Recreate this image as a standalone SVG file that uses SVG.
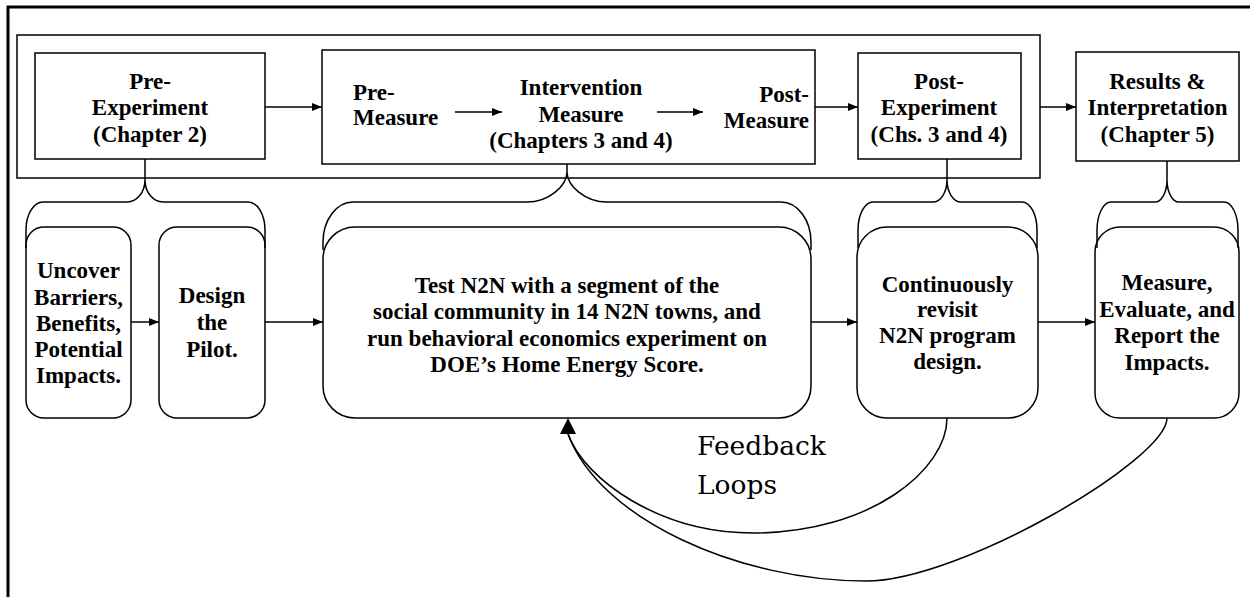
<svg xmlns="http://www.w3.org/2000/svg" width="1250" height="597" viewBox="0 0 1250 597">
<style>
.b{fill:#fff;stroke:#000;stroke-width:1.5}
.t{font-family:"Liberation Serif","Times New Roman",serif;font-weight:bold;font-size:23px;fill:#000;text-anchor:middle}
.c{fill:none;stroke:#000;stroke-width:1.5}
.f{font-family:"DejaVu Serif",serif;font-size:26.5px;fill:#000}
</style>
<defs>
<marker id="ah" markerUnits="userSpaceOnUse" markerWidth="10" markerHeight="8" refX="10" refY="4" orient="auto">
<path d="M0,0 L10,4 L0,8 z" fill="#000"/>
</marker>
</defs>
<rect width="1250" height="597" fill="#fff"/>
<g id="border">
<path d="M8,597 V7 H1250" fill="none" stroke="#000" stroke-width="3"/>
</g>
<g id="container"><rect class="b" x="17" y="35" width="1023" height="143"/></g>
<g id="pre-experiment">
<rect class="b" x="35" y="53" width="230" height="106"/>
<text class="t" x="150" y="89">Pre-</text>
<text class="t" x="150" y="115">Experiment</text>
<text class="t" x="150" y="142">(Chapter 2)</text>
</g>
<g id="experiment">
<rect class="b" x="322" y="50" width="493" height="114"/>
<text class="t" x="353" y="100" text-anchor="start" style="text-anchor:start">Pre-</text>
<text class="t" x="353" y="125" style="text-anchor:start">Measure</text>
<text class="t" x="581" y="95">Intervention</text>
<text class="t" x="581" y="122">Measure</text>
<text class="t" x="581" y="148">(Chapters 3 and 4)</text>
<text class="t" x="809" y="102" style="text-anchor:end">Post-</text>
<text class="t" x="809" y="128" style="text-anchor:end">Measure</text>
</g>
<g id="post-experiment">
<rect class="b" x="858" y="53" width="163" height="106"/>
<text class="t" x="939" y="89">Post-</text>
<text class="t" x="939" y="115">Experiment</text>
<text class="t" x="939" y="142">(Chs. 3 and 4)</text>
</g>
<g id="results">
<rect class="b" x="1076" y="52" width="163" height="109"/>
<text class="t" x="1157.5" y="89">Results &amp;</text>
<text class="t" x="1157.5" y="115">Interpretation</text>
<text class="t" x="1157.5" y="142">(Chapter 5)</text>
</g>
<g id="uncover">
<rect class="b" x="26" y="227" width="105" height="191" rx="18" ry="18"/>
<text class="t" x="78.5" y="278">Uncover</text>
<text class="t" x="78.5" y="305">Barriers,</text>
<text class="t" x="78.5" y="331">Benefits,</text>
<text class="t" x="78.5" y="357">Potential</text>
<text class="t" x="78.5" y="383">Impacts.</text>
</g>
<g id="design">
<rect class="b" x="159" y="227" width="106" height="191" rx="18" ry="18"/>
<text class="t" x="212" y="303">Design</text>
<text class="t" x="212" y="330">the</text>
<text class="t" x="212" y="357">Pilot.</text>
</g>
<g id="test">
<rect class="b" x="323" y="227" width="488" height="191" rx="32" ry="32"/>
<text class="t" x="567" y="293">Test N2N with a segment of the</text>
<text class="t" x="567" y="319">social community in 14 N2N towns, and</text>
<text class="t" x="567" y="346">run behavioral economics experiment on</text>
<text class="t" x="567" y="372">DOE’s Home Energy Score.</text>
</g>
<g id="revisit">
<rect class="b" x="857" y="227" width="181" height="191" rx="30" ry="30"/>
<text class="t" x="947.5" y="292">Continuously</text>
<text class="t" x="947.5" y="317">revisit</text>
<text class="t" x="947.5" y="343">N2N program</text>
<text class="t" x="947.5" y="369">design.</text>
</g>
<g id="measure">
<rect class="b" x="1095" y="227" width="144" height="191" rx="25" ry="25"/>
<text class="t" x="1167" y="290">Measure,</text>
<text class="t" x="1167" y="317">Evaluate, and</text>
<text class="t" x="1167" y="343">Report the</text>
<text class="t" x="1167" y="370">Impacts.</text>
</g>
<g id="connectors">
<path class="c" d="M26 248 L26 230 C26 214.6 33.65 202 43 202 L127 202 C136.9 202 145 192.1 145 180 L145 159 M145 180 C145 192.1 153.1 202 163 202 L248 202 C257.35 202 265 214.6 265 230 L265 248"/>
<path class="c" d="M323 250 L323 242 C323 220 336.5 202 353 202 L527 202 C549 202 567 185.5 567 172 L567 164 M567 172 C567 185.5 585 202 607 202 L781 202 C797.5 202 811 220 811 242 L811 250"/>
<path class="c" d="M858 248 L858 230 C858 214.6 864.75 202 873 202 L933 202 C940.7 202 947 192.1 947 180 L947 159 M947 180 C947 192.1 953.3 202 961 202 L1022 202 C1030.25 202 1037 214.6 1037 230 L1037 248"/>
<path class="c" d="M1097 248 L1097 230 C1097 214.6 1103.3 202 1111 202 L1155 202 C1161.6 202 1167 192.1 1167 180 L1167 161 M1167 180 C1167 192.1 1172.4 202 1179 202 L1224 202 C1231.7 202 1238 214.6 1238 230 L1238 248"/>
<line class="c" x1="265" y1="107" x2="322" y2="107" marker-end="url(#ah)"/>
<line class="c" x1="455" y1="112" x2="502" y2="112" marker-end="url(#ah)"/>
<line class="c" x1="657" y1="112" x2="703" y2="112" marker-end="url(#ah)"/>
<line class="c" x1="815" y1="107" x2="858" y2="107" marker-end="url(#ah)"/>
<line class="c" x1="1040" y1="107" x2="1076" y2="107" marker-end="url(#ah)"/>
<line class="c" x1="131" y1="322" x2="159" y2="322" marker-end="url(#ah)"/>
<line class="c" x1="265" y1="322" x2="323" y2="322" marker-end="url(#ah)"/>
<line class="c" x1="811" y1="322" x2="857" y2="322" marker-end="url(#ah)"/>
<line class="c" x1="1038" y1="322" x2="1095" y2="322" marker-end="url(#ah)"/>
<path class="c" d="M947 418 C947 470 870 533 753 533 C660 533 585 480 568 434"/>
<path class="c" d="M1167 418 C1167 460 960 581 866 581 C740 581 600 520 568 434"/>
<polygon points="568,418 560,434 576,434" fill="#000"/>
</g>
<g id="label">
<text class="f" x="697" y="455">Feedback</text>
<text class="f" x="697" y="494">Loops</text>
</g>
</svg>
